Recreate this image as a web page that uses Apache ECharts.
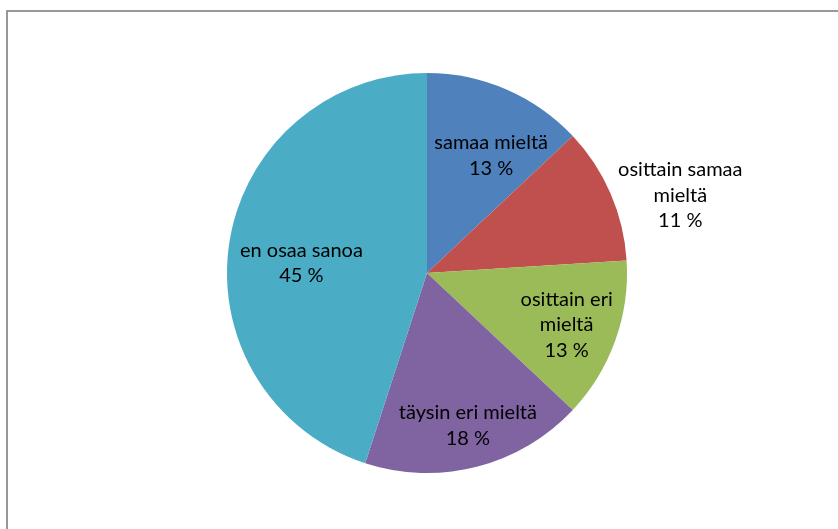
<!DOCTYPE html>
<html>
<head>
<meta charset="utf-8">
<script src="https://cdn.jsdelivr.net/npm/echarts@6/dist/echarts.min.js"></script>
<style>
  html, body { margin: 0; padding: 0; background: #fff; }
  #chart { width: 838px; height: 529px; }
</style>
</head>
<body>
<div id="chart"></div>
<script>
// answer categories (line breaks as in the original labels)
const categories = ['samaa mieltä', 'osittain samaa\nmieltä', 'osittain eri\nmieltä', 'täysin eri mieltä', 'en osaa sanoa'];
// share of answers, percent
const shares = [13, 11, 13, 18, 45];
const colors = ['#4F81BD', '#C0504D', '#9BBB59', '#8064A2', '#4BACC6'];

// pie geometry
const cx = 427, cy = 273, R = 200;
// label placement: distance from center (px) and angle tweak (deg) per slice
const labelDist = [134, 265, 149, 158, 126];
const labelShift = [5.2, 6.3, 0.6, -0.6, -4.5];

const total = shares.reduce((a, b) => a + b, 0);
function midAngle(i) {
  let before = 0;
  for (let k = 0; k < i; k++) before += shares[k];
  return (before + shares[i] / 2) / total * 360;
}

const chart = echarts.init(document.getElementById('chart'));
chart.setOption({
  animation: false,
  color: colors,
  graphic: [{
    type: 'rect',
    shape: { x: 7, y: 11, width: 900, height: 600 },
    style: { fill: 'none', stroke: '#989898', lineWidth: 2 },
    silent: true
  }],
  series: [{
    type: 'pie',
    center: [cx, cy],
    radius: [0, R],
    startAngle: 90,
    clockwise: true,
    itemStyle: { borderWidth: 0 },
    label: {
      show: true,
      position: 'inside',
      formatter: p => p.name + '\n' + p.value + ' %',
      color: '#000',
      fontFamily: 'Lato',
      fontSize: 20,
      lineHeight: 25.5,
      align: 'center'
    },
    labelLine: { show: false },
    labelLayout: function (params) {
      const i = params.dataIndex;
      const a = (midAngle(i) + labelShift[i]) * Math.PI / 180;
      return {
        x: cx + labelDist[i] * Math.sin(a),
        y: cy - labelDist[i] * Math.cos(a),
        align: 'center',
        verticalAlign: 'middle'
      };
    },
    data: categories.map((name, i) => ({ name: name, value: shares[i] }))
  }]
});
</script>
</body>
</html>
